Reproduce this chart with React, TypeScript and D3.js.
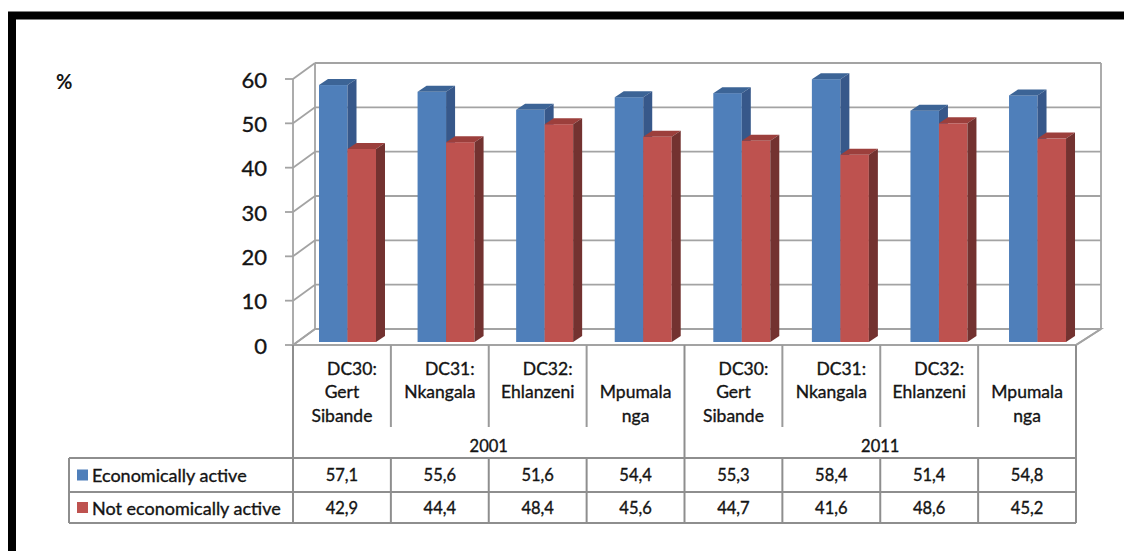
import React from "react";
import * as d3 from "d3";

const categoryLabels: string[][] = [
  ["DC30:", "Gert", "Sibande"],
  ["DC31:", "Nkangala", ""],
  ["DC32:", "Ehlanzeni", ""],
  ["", "Mpumala", "nga"],
  ["DC30:", "Gert", "Sibande"],
  ["DC31:", "Nkangala", ""],
  ["DC32:", "Ehlanzeni", ""],
  ["", "Mpumala", "nga"],
];
const years = ["2001", "2011"];
const activeValues = [57.1, 55.6, 51.6, 54.4, 55.3, 58.4, 51.4, 54.8];
const notActiveValues = [42.9, 44.4, 48.4, 45.6, 44.7, 41.6, 48.6, 45.2];
const activeLabels = ["57,1", "55,6", "51,6", "54,4", "55,3", "58,4", "51,4", "54,8"];
const notActiveLabels = ["42,9", "44,4", "48,4", "45,6", "44,7", "41,6", "48,6", "45,2"];
const seriesNames = ["Economically active", "Not economically active"];
const yTicks = [0, 10, 20, 30, 40, 50, 60];

const FONT = "Lato, 'Open Sans', sans-serif";
const BLUE = { face: "#4F7FBA", top: "#3C6496", side: "#37588A" };
const RED = { face: "#BE524F", top: "#9C3F3C", side: "#733230" };
const GRID = "#A3A3A3";
const TABLE = "#8E8E8E";
const TXT = "#141414";

export default function App() {
  const W = 1124, H = 551;
  const x0 = 293, x1 = 1076;
  const depthX = 22, depthY = -16;
  const yFront = d3.scaleLinear().domain([0, 60]).range([345, 79]);
  const yBar = d3.scaleLinear().domain([0, 60]).range([342, 72]);
  const ids = categoryLabels.map((_, i) => i);
  const xBand = d3.scaleBand<number>().domain(ids).range([x0, x1]).padding(0);
  const bw = xBand.bandwidth();
  const barW = 28.5;
  const bdx = 9, bdy = -6;

  const headerTop = 345, headerBottom = 427, yearBottom = 458, row1 = 492, row2 = 523;
  const legendLeft = 69;
  const txtStyle = { fontFamily: FONT, fill: TXT, stroke: TXT, strokeWidth: 0.35 } as const;

  const bar = (x: number, v: number, c: typeof BLUE, key: string) => {
    const yt = yBar(v), yb = yBar(0);
    return (
      <g key={key}>
        <rect x={x} y={yt} width={barW} height={yb - yt} fill={c.face} />
        <polygon
          points={`${x},${yt} ${x + bdx},${yt + bdy} ${x + barW + bdx},${yt + bdy} ${x + barW},${yt}`}
          fill={c.top}
        />
        <polygon
          points={`${x + barW},${yt} ${x + barW + bdx},${yt + bdy} ${x + barW + bdx},${yb + bdy} ${x + barW},${yb}`}
          fill={c.side}
        />
      </g>
    );
  };

  const yBackTop = yFront(60) + depthY;
  const yBackBottom = yFront(0) + depthY;

  return (
    <svg width={W} height={H} style={{ position: "absolute", left: 0, top: 0, background: "#fff" }}>
      <rect x={0} y={0} width={W} height={H} fill="#fff" />
      <rect x={12} y={15.5} width={1300} height={700} fill="none" stroke="#000" strokeWidth={8} />

      <text x={56} y={81} fontSize={20} fontWeight="bold" dominantBaseline="central" {...txtStyle} strokeWidth={0}>%</text>

      {/* floor */}
      <polygon
        points={`${x0},${yFront(0)} ${x1},${yFront(0)} ${x1 + 25},${yBackBottom} ${x0 + depthX},${yBackBottom}`}
        fill="#fff" stroke={GRID} strokeWidth={1.8}
      />
      {/* back wall gridlines */}
      {yTicks.map((t) => (
        <line key={"g" + t} x1={x0 + depthX} x2={x1 + 25} y1={yFront(t) + depthY} y2={yFront(t) + depthY} stroke={GRID} strokeWidth={1.8} />
      ))}
      <line x1={x0 + depthX} x2={x0 + depthX} y1={yBackTop} y2={yBackBottom} stroke={GRID} strokeWidth={1.8} />
      <line x1={x1 + 25} x2={x1 + 25} y1={yBackTop} y2={yBackBottom} stroke={GRID} strokeWidth={1.8} />
      {/* side wall */}
      {yTicks.map((t) => (
        <line key={"s" + t} x1={x0} x2={x0 + depthX} y1={yFront(t)} y2={yFront(t) + depthY} stroke={GRID} strokeWidth={1.8} />
      ))}
      <line x1={x0} x2={x0} y1={yFront(60)} y2={yFront(0)} stroke={GRID} strokeWidth={1.8} />
      {yTicks.map((t) => (
        <line key={"t" + t} x1={x0 - 8} x2={x0} y1={yFront(t)} y2={yFront(t)} stroke={GRID} strokeWidth={1.8} />
      ))}
      {yTicks.map((t) => (
        <text key={"l" + t} x={267} y={yFront(t)} textAnchor="end" dominantBaseline="central" fontSize={22} {...txtStyle}>{t}</text>
      ))}

      {/* bars */}
      {ids.map((i) => {
        const bx = (xBand(i) as number) + 26 + i * 0.7;
        return (
          <g key={"b" + i}>
            {bar(bx, activeValues[i], BLUE, "a")}
            {bar(bx + barW, notActiveValues[i], RED, "n")}
          </g>
        );
      })}

      {/* table: category header */}
      {d3.range(9).map((k) => {
        const x = x0 + k * bw;
        const full = k === 0 || k === 4 || k === 8;
        return (
          <g key={"v" + k}>
            <line x1={x} x2={x} y1={headerTop} y2={full ? row2 : headerBottom} stroke={full ? TABLE : "#9a9a9a"} strokeWidth={2} />
            {!full && <line x1={x} x2={x} y1={yearBottom} y2={row2} stroke={TABLE} strokeWidth={2} />}
          </g>
        );
      })}
      <line x1={x1} x2={x1 + 25} y1={yFront(0)} y2={yBackBottom} stroke={GRID} strokeWidth={1.8} />
      {ids.map((i) => {
        const cx = (xBand(i) as number) + bw / 2;
        return categoryLabels[i].map((line, j) => (
          <text key={"c" + i + j} x={cx + (line.endsWith(":") ? 10 : 0)} y={368 + j * 23.5} textAnchor="middle" dominantBaseline="central" fontSize={17.5} {...txtStyle}>{line}</text>
        ));
      })}
      {years.map((yr, k) => (
        <text key={yr} x={x0 + (k * 4 + 2) * bw} y={446} textAnchor="middle" dominantBaseline="central" fontSize={16.5} {...txtStyle}>{yr}</text>
      ))}

      {/* legend rows */}
      {[yearBottom, row1, row2].map((y, k) => (
        <line key={"h" + k} x1={legendLeft} x2={x1} y1={y} y2={y} stroke={TABLE} strokeWidth={2} />
      ))}
      <line x1={legendLeft} x2={legendLeft} y1={yearBottom} y2={row2} stroke={TABLE} strokeWidth={2} />
      {seriesNames.map((name, k) => {
        const cy = k === 0 ? (yearBottom + row1) / 2 : (row1 + row2) / 2;
        const c = k === 0 ? BLUE.face : RED.face;
        const labels = k === 0 ? activeLabels : notActiveLabels;
        return (
          <g key={name}>
            <rect x={77} y={cy - 5.5} width={11} height={11} fill={c} />
            <text x={92} y={cy} dominantBaseline="central" fontSize={18} {...txtStyle}>{name}</text>
            {labels.map((lab, i) => (
              <text key={i} x={(xBand(i) as number) + bw / 2} y={cy} textAnchor="middle" dominantBaseline="central" fontSize={16.5} {...txtStyle}>{lab}</text>
            ))}
          </g>
        );
      })}
    </svg>
  );
}
